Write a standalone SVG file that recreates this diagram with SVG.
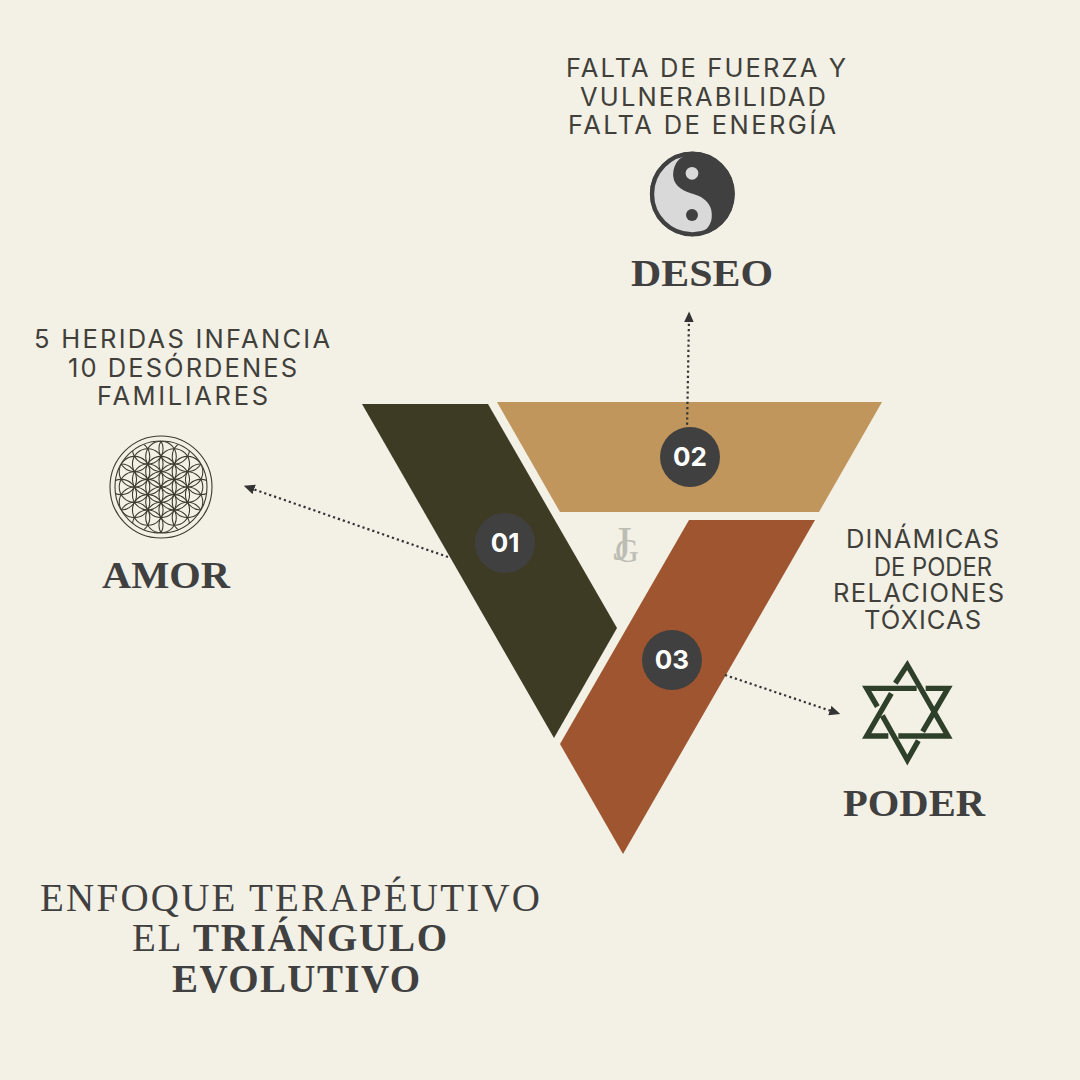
<svg xmlns="http://www.w3.org/2000/svg" width="1080" height="1080" viewBox="0 0 1080 1080">
<style>
.b{font-family:"Inter","Liberation Sans",sans-serif;font-size:25.5px;font-weight:400;fill:#403f3a}
.h{font-family:"Liberation Serif",serif;font-size:37px;font-weight:700;fill:#404040}
.t{font-family:"Liberation Serif",serif;font-size:39px;fill:#404040}
.tb{font-weight:700}
.n{font-family:"Inter","Liberation Sans",sans-serif;font-size:26px;font-weight:700;fill:#fff;text-anchor:middle}
.c{fill:#404040}
.d{fill:none;stroke:#333;stroke-width:2.2;stroke-dasharray:2.2 3;marker-end:url(#a)}
.f circle{fill:none;stroke:#3e3a30;stroke-width:1.1}
.s path{fill:none;stroke:#2e4029;stroke-width:16;stroke-linejoin:miter}
</style>
<defs>
<marker id="a" viewBox="0 0 10 10" refX="4" refY="5" markerWidth="11" markerHeight="11" markerUnits="userSpaceOnUse" orient="auto"><path d="M0,0.5L10,5L0,9.5Z" fill="#333"/></marker>
<clipPath id="fc"><circle r="46"/></clipPath>
</defs>
<rect width="1080" height="1080" fill="#f3f0e6"/>
<g id="bands">
<polygon points="362,404 488,404 617,628 554,738" fill="#3e3b25"/>
<polygon points="497,402 882,402 819,512 560,512" fill="#c0965c"/>
<polygon points="689,520 815,520 623,854 560,744" fill="#9f5630"/>
</g>
<g id="connectors">
<path class="d" d="M687,430L689,318"/>
<path class="d" d="M448,557L250,488"/>
<path class="d" d="M725,675L834,712"/>
</g>
<g id="badge-01"><circle class="c" cx="505" cy="543" r="30"/><text class="n" x="505" y="552">01</text></g>
<g id="badge-02"><circle class="c" cx="690" cy="457" r="30"/><text class="n" x="690" y="466">02</text></g>
<g id="badge-03"><circle class="c" cx="672" cy="660" r="30"/><text class="n" x="672" y="669">03</text></g>
<g id="logo" fill="#bdbdb4" font-family="Liberation Serif,serif"><text x="613" y="560" font-size="48">J</text><text x="615" y="562" font-size="33">G</text></g>
<g id="deseo">
<text class="b" x="566" y="77" textLength="280">FALTA DE FUERZA Y</text>
<text class="b" x="580" y="106" textLength="246">VULNERABILIDAD</text>
<text class="b" x="568" y="134" textLength="268">FALTA DE ENERGÍA</text>
<g transform="translate(630,140) scale(.3333)"><circle cx="187" cy="162" r="127" fill="#404040"/><path d="M175,45C140,50 128,85 130,110C132,140 165,155 190,162C225,172 250,195 245,235C242,255 232,268 216,276A118,118 0 1 1 175,45Z" fill="#d9d9d9"/><circle cx="187" cy="162" r="121" fill="none" stroke="#404040" stroke-width="13"/><circle cx="186" cy="100" r="19" fill="#d9d9d9"/><circle cx="186" cy="225" r="18" fill="#404040"/></g>
<text class="h" x="631" y="286" textLength="142" lengthAdjust="spacingAndGlyphs">DESEO</text>
</g>
<g id="amor">
<text class="b" x="34" y="348" textLength="296">5 HERIDAS INFANCIA</text>
<text class="b" x="68" y="377" textLength="229">10 DESÓRDENES</text>
<text class="b" x="97" y="405" textLength="171">FAMILIARES</text>
<g class="f" transform="translate(161,487)"><circle r="51"/><circle r="46"/>
<g clip-path="url(#fc)">
<circle r="15.3"/>
<circle cy="15.3" r="15.3"/><circle cy="-15.3" r="15.3"/><circle cy="30.6" r="15.3"/><circle cy="-30.6" r="15.3"/>
<circle cx="13.25" cy="7.65" r="15.3"/><circle cx="-13.25" cy="7.65" r="15.3"/><circle cx="13.25" cy="-7.65" r="15.3"/><circle cx="-13.25" cy="-7.65" r="15.3"/>
<circle cx="13.25" cy="22.95" r="15.3"/><circle cx="-13.25" cy="22.95" r="15.3"/><circle cx="13.25" cy="-22.95" r="15.3"/><circle cx="-13.25" cy="-22.95" r="15.3"/>
<circle cx="26.5" r="15.3"/><circle cx="-26.5" r="15.3"/><circle cx="26.5" cy="15.3" r="15.3"/><circle cx="-26.5" cy="15.3" r="15.3"/><circle cx="26.5" cy="-15.3" r="15.3"/><circle cx="-26.5" cy="-15.3" r="15.3"/>
<circle cx="13.25" cy="38.25" r="15.3"/><circle cx="-13.25" cy="38.25" r="15.3"/><circle cx="13.25" cy="-38.25" r="15.3"/><circle cx="-13.25" cy="-38.25" r="15.3"/>
<circle cx="26.5" cy="30.6" r="15.3"/><circle cx="-26.5" cy="30.6" r="15.3"/><circle cx="26.5" cy="-30.6" r="15.3"/><circle cx="-26.5" cy="-30.6" r="15.3"/>
<circle cx="39.75" cy="7.65" r="15.3"/><circle cx="-39.75" cy="7.65" r="15.3"/><circle cx="39.75" cy="-7.65" r="15.3"/><circle cx="-39.75" cy="-7.65" r="15.3"/>
</g></g>
<text class="h" x="102" y="588" textLength="128" lengthAdjust="spacingAndGlyphs">AMOR</text>
</g>
<g id="poder">
<text class="b" x="846" y="548" textLength="153">DINÁMICAS</text>
<text class="b" x="874" y="576" textLength="118" lengthAdjust="spacingAndGlyphs">DE PODER</text>
<text class="b" x="833" y="602" textLength="171">RELACIONES</text>
<text class="b" x="864" y="629" textLength="117">TÓXICAS</text>
<g class="s" transform="translate(850,650) scale(.3333)"><path d="M136,100L172,45L294,258L145,258"/><path d="M124,130L50,258L115,258"/><path d="M200,115L50,115L82,170"/><path d="M97,197L172,330L205,272"/><path d="M227,115L294,115L218,245"/></g>
<text class="h" x="843" y="816" textLength="142" lengthAdjust="spacingAndGlyphs">PODER</text>
</g>
<g id="title">
<text class="t" x="40" y="911" textLength="500">ENFOQUE TERAPÉUTIVO</text>
<text class="t" x="132" y="951" textLength="315">EL <tspan class="tb">TRIÁNGULO</tspan></text>
<text class="t tb" x="172" y="992" textLength="248">EVOLUTIVO</text>
</g>
</svg>
